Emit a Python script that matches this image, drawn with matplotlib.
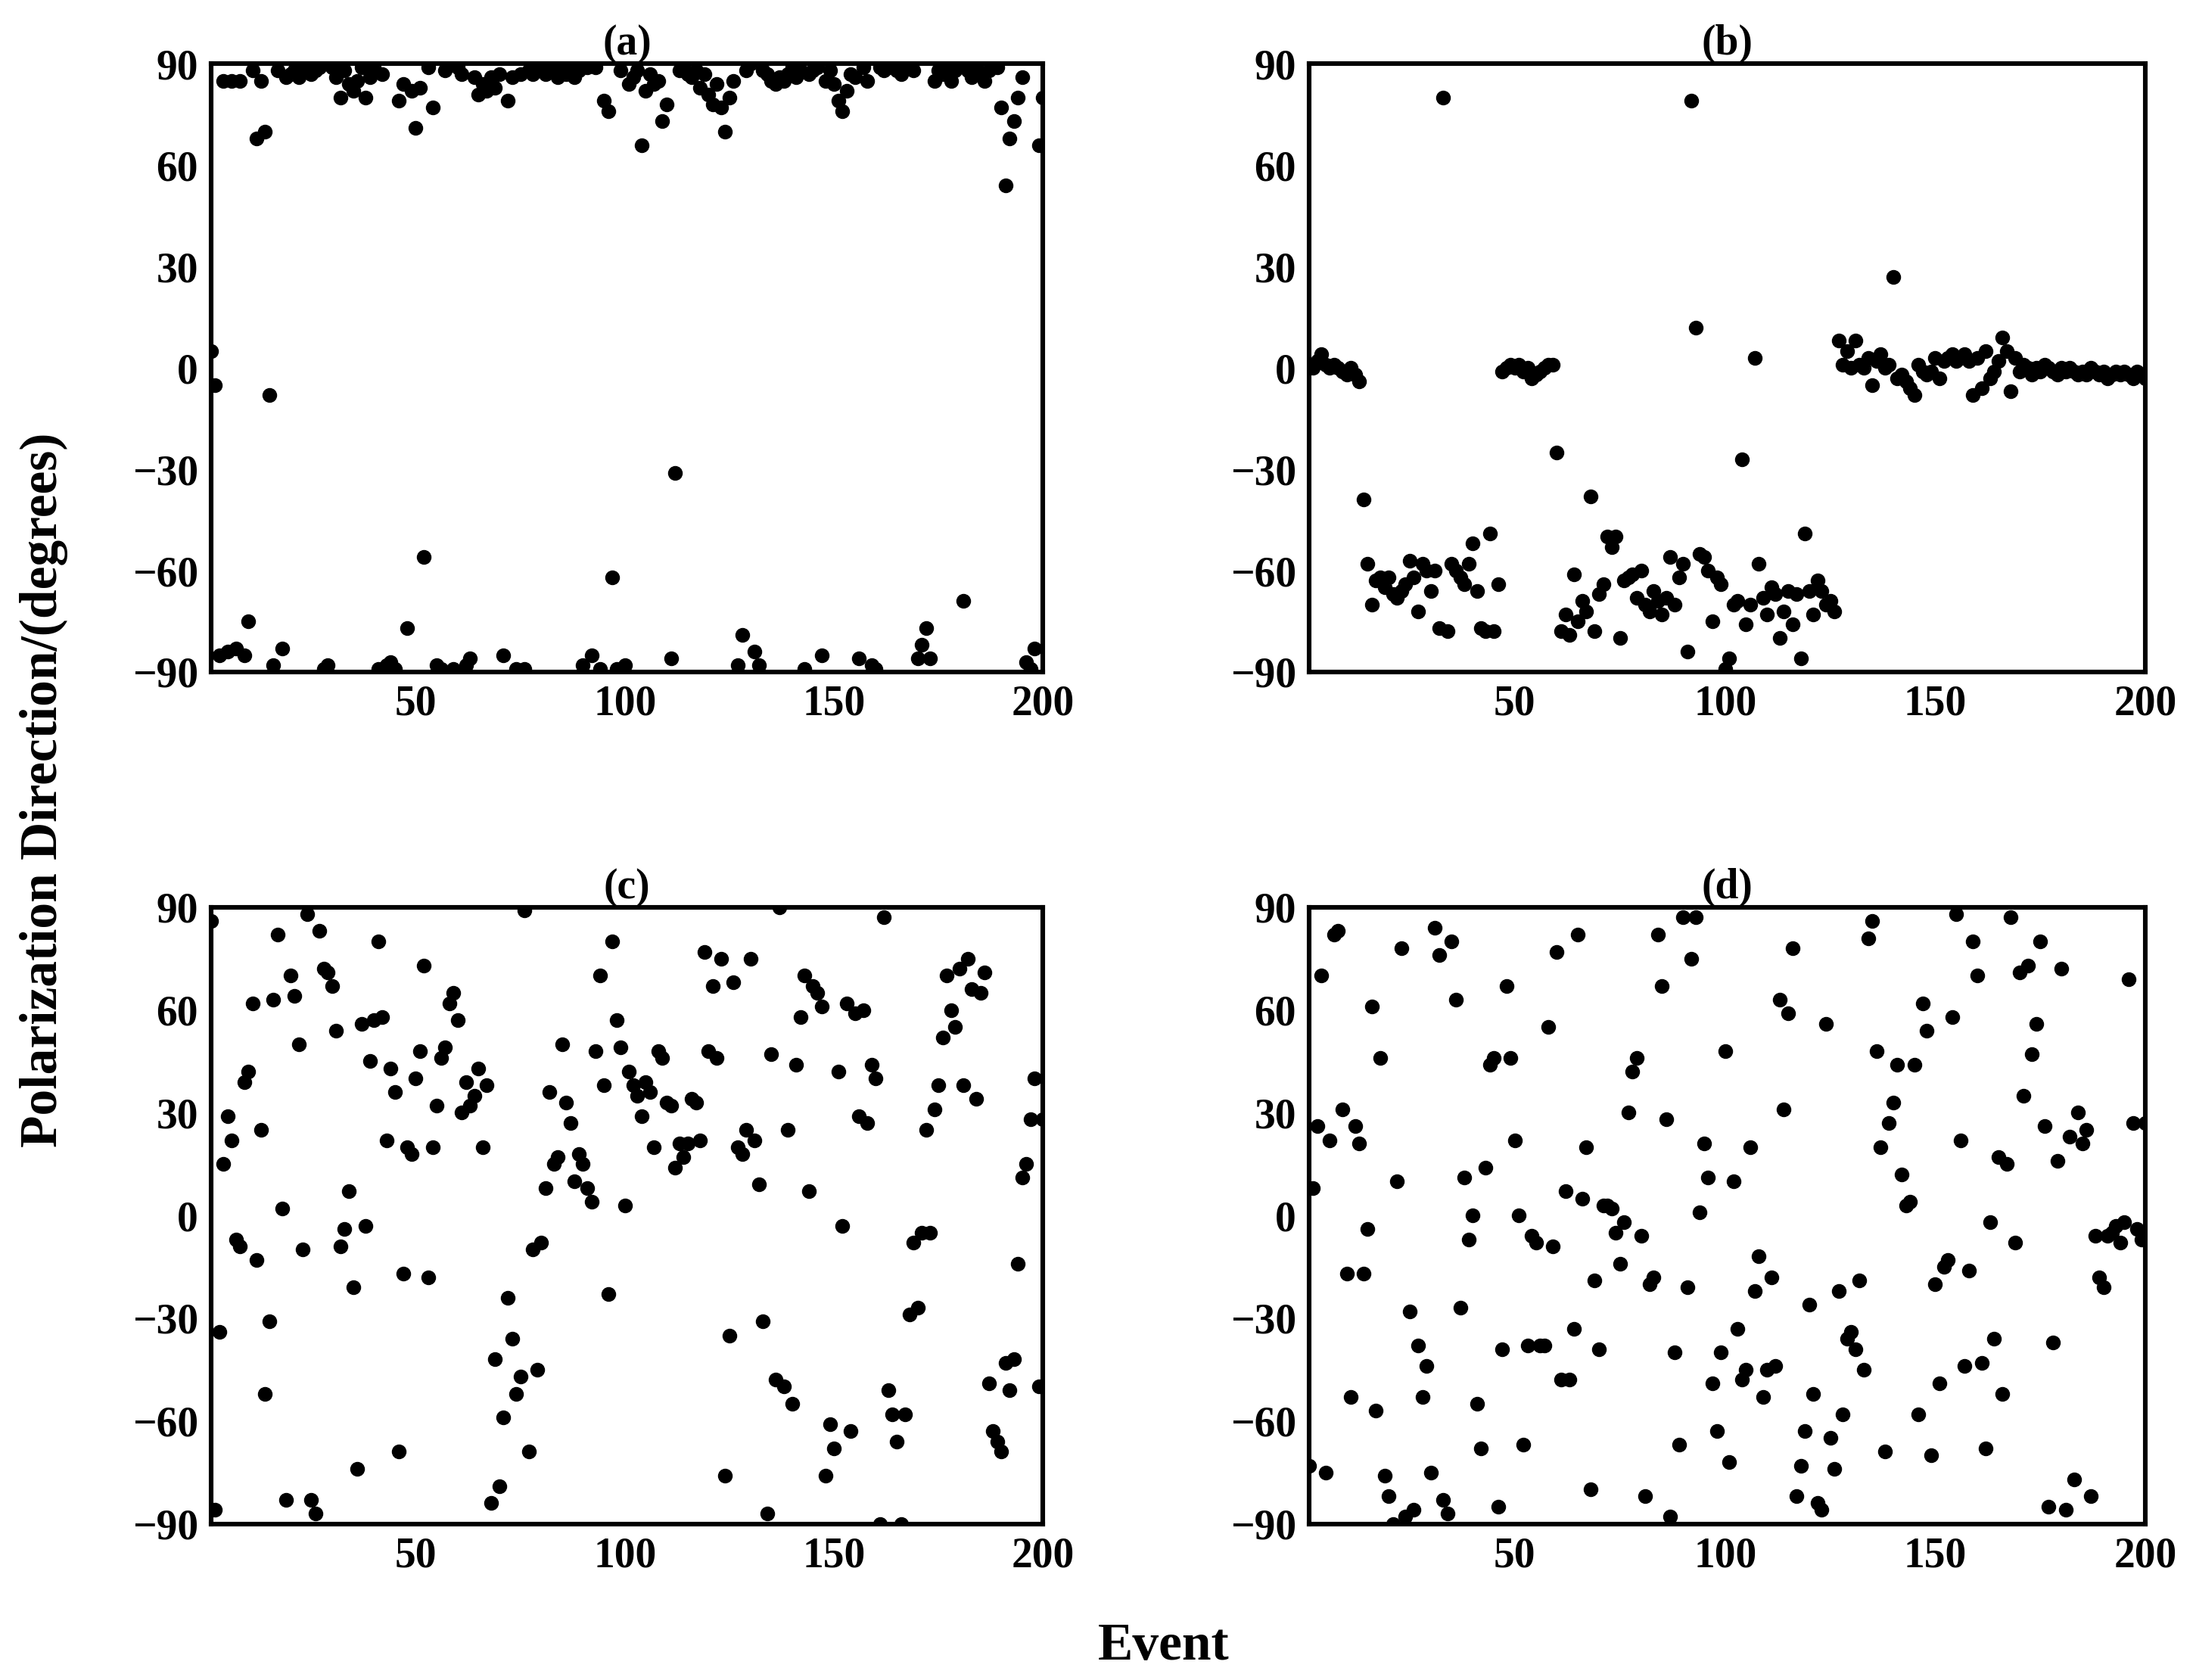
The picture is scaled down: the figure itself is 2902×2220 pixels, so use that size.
import numpy as np
import matplotlib.pyplot as plt

plt.rcParams['font.family'] = ['Liberation Serif', 'DejaVu Serif']
plt.rcParams['font.weight'] = 'bold'

# Polarization direction (degrees) per event
pol_a = [5, -5, -85, 85, -84, 85, -83, 85, -85, -75, 88, 68, 85, 70, -8, -88, 88, -83, 86, 87,
         88, 86, 88, 89, 87, 88, 89, -89, -88, 89, 86, 80, 88, 84, 82, 85, 89, 80, 86, 89,
         -89, 87, -88, -87, -89, 79, 84, -77, 82, 71, 83, -56, 89, 77, -88, -89, 88, 90, -89, 89,
         87, -88, -86, 86, 81, 84, 82, 86, 83, 87, -85, 79, 86, -89, 87, -89, 88, 87, 89, 88,
         87, 88, 89, 86, 88, 87, 89, 86, 88, -88, 89, -85, 89, -89, 79, 76, -62, -89, 88, -88,
         84, 86, 88, 66, 82, 87, 84, 85, 73, 78, -86, -31, 88, 89, 87, 86, 88, 83, 87, 81,
         78, 84, 77, 70, 80, 85, -88, -79, 88, 90, -84, -88, 88, 87, 85, 84, 86, 85, 87, 89,
         86, 88, -89, 87, 88, 89, -85, 85, 88, 84, 79, 76, 82, 87, 86, -86, 89, 85, -88, -89,
         89, 88, 89, 90, 88, 87, 89, 89, 88, -86, -82, -77, -86, 85, 88, 87, 89, 85, 88, 90,
         -69, 88, 86, 89, 87, 85, 88, 90, 89, 77, 54, 68, 73, 80, 86, -87, -89, -83, 66, 80]

pol_b = [1, 0, 2, 4, 1, 0, 1, 0, -1, -2, 0, -2, -4, -39, -58, -70, -63, -62, -65, -62,
         -67, -68, -66, -64, -57, -62, -72, -58, -60, -66, -60, -77, 80, -78, -58, -60, -62, -64, -58, -52,
         -66, -77, -78, -49, -78, -64, -1, 0, 1, 0, 1, -1, 0, -3, -2, -1, 0, 1, 1, -25,
         -78, -73, -79, -61, -75, -69, -72, -38, -78, -67, -64, -50, -53, -50, -80, -63, -62, -61, -68, -60,
         -70, -72, -66, -69, -73, -68, -56, -70, -62, -58, -84, 79, 12, -55, -56, -60, -75, -62, -64, -89,
         -86, -70, -69, -27, -76, -70, 3, -58, -68, -73, -65, -67, -80, -72, -66, -76, -67, -86, -49, -66,
         -73, -63, -66, -70, -69, -72, 8, 1, 5, 0, 8, 1, 0, 3, -5, 2, 4, 0, 1, 27,
         -3, -2, -4, -6, -8, 1, -1, -2, -1, 3, -3, 2, 3, 4, 2, 3, 4, 2, -8, 3,
         -6, 5, -3, -1, 2, 9, 5, -7, 3, -1, 1, 0, -2, 0, -1, 1, 0, -1, -2, 0,
         -1, 0, -1, -2, -1, -2, 0, -1, -2, -1, -3, -2, -1, -2, -1, -2, -3, -1, -2, -3]

pol_c = [86, -86, -34, 15, 29, 22, -7, -9, 39, 42, 62, -13, 25, -52, -31, 63, 82, 2, -83, 70,
         64, 50, -10, 88, -83, -87, 83, 72, 71, 67, 54, -9, -4, 7, -21, -74, 56, -3, 45, 57,
         80, 58, 22, 43, 36, -69, -17, 20, 18, 40, 48, 73, -18, 20, 32, 46, 49, 62, 65, 57,
         30, 39, 32, 35, 43, 20, 38, -84, -42, -79, -59, -24, -36, -52, -47, 89, -69, -10, -45, -8,
         8, 36, 15, 17, 50, 33, 27, 10, 18, 15, 8, 4, 48, 70, 38, -23, 80, 57, 49, 3,
         42, 38, 35, 29, 39, 36, 20, 48, 46, 33, 32, 14, 21, 17, 21, 34, 33, 22, 77, 48,
         67, 46, 75, -76, -35, 68, 20, 18, 25, 75, 22, 9, -31, -87, 47, -48, 90, -50, 25, -55,
         44, 58, 70, 7, 67, 65, 61, -76, -61, -68, 42, -3, 62, -63, 59, 29, 60, 27, 44, 40,
         -90, 87, -51, -58, -66, -90, -58, -29, -8, -27, -5, 25, -5, 31, 38, 52, 70, 60, 55, 72,
         38, 75, 66, 34, 65, 71, -49, -63, -66, -69, -43, -51, -42, -14, 11, 15, 28, 40, -50, 28]

pol_d = [-73, 8, 26, 70, -75, 22, 82, 83, 31, -17, -53, 26, 21, -17, -4, 61, -57, 46, -76, -82,
         -90, 10, 78, -88, -28, -86, -38, -53, -44, -75, 84, 76, -83, -87, 80, 63, -27, 11, -7, 0,
         -55, -68, 14, 44, 46, -85, -39, 67, 46, 22, 0, -67, -38, -6, -8, -38, -38, 55, -9, 77,
         -48, 7, -48, -33, 82, 5, 20, -80, -19, -39, 3, 3, 2, -5, -14, -2, 30, 42, 46, -6,
         -82, -20, -18, 82, 67, 28, -88, -40, -67, 87, -21, 75, 87, 1, 21, 11, -49, -63, -40, 48,
         -72, 10, -33, -48, -45, 20, -22, -12, -53, -45, -18, -44, 63, 31, 59, 78, -82, -73, -63, -26,
         -52, -84, -86, 56, -65, -74, -22, -58, -36, -34, -39, -19, -45, 81, 86, 48, 20, -69, 27, 33,
         44, 12, 3, 4, 44, -58, 62, 54, -70, -20, -49, -15, -13, 58, 88, 22, -44, -16, 80, 70,
         -43, -68, -2, -36, 17, -52, 15, 87, -8, 71, 35, 73, 47, 56, 80, 26, -85, -37, 16, 72,
         -86, 23, -77, 30, 21, 25, -82, -6, -18, -21, -6, -5, -3, -8, -2, 69, 27, -4, -7, 27]

panels = [("(a)", pol_a), ("(b)", pol_b), ("(c)", pol_c), ("(d)", pol_d)]
positions = [[0.096, 0.60, 0.379, 0.362], [0.596, 0.60, 0.381, 0.362],
             [0.096, 0.093, 0.379, 0.367], [0.596, 0.093, 0.381, 0.367]]

fig = plt.figure(figsize=(14.51, 11.1), dpi=200)
for (title, vals), pos in zip(panels, positions):
    ax = fig.add_axes(pos)
    x = np.arange(1, len(vals) + 1)
    ax.scatter(x, vals, s=36, color="black", zorder=3)
    ax.set_xlim(1, 200)
    ax.set_ylim(-90, 90)
    ax.set_xticks([50, 100, 150, 200])
    ax.set_yticks([-90, -60, -30, 0, 30, 60, 90])
    ax.set_yticklabels(["\u221290", "\u221260", "\u221230", "0", "30", "60", "90"])
    ax.tick_params(direction="in", length=0, labelsize=20, pad=6)
    for sp in ax.spines.values():
        sp.set_linewidth(2.2)
    ax.set_title(title, fontsize=20, fontweight="bold", pad=2)

fig.text(0.02, 0.53, "Polarization Direction/(degrees)", rotation=90,
         ha="center", va="center", fontsize=25, fontweight="bold")
fig.text(0.53, 0.02, "Event", ha="center", va="center", fontsize=25, fontweight="bold")
fig.savefig("out.png", dpi=200)
